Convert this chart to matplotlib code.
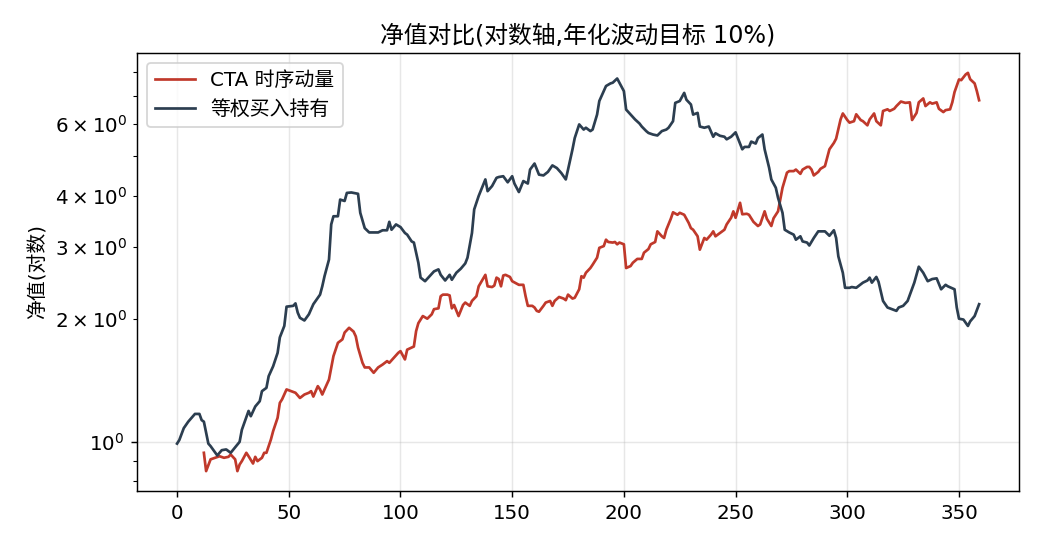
import matplotlib
matplotlib.use("Agg")
import matplotlib.pyplot as plt
from matplotlib.ticker import LogFormatterSciNotation

plt.rcParams['font.family'] = ['DejaVu Sans', 'Noto Sans CJK SC']
plt.rcParams['font.size'] = 11
plt.rcParams['axes.unicode_minus'] = False

# 等权买入持有 净值
bh_days = [0, 1, 3, 5, 8, 10, 11, 12, 14, 15, 18, 20, 22, 24, 26, 28, 29, 32, 33, 35,
           37, 38, 40, 41, 43, 45, 46, 48, 49, 52, 53, 54, 55, 57, 59, 61, 64, 65, 66, 68,
           69, 70, 72, 73, 75, 76, 78, 81, 82, 84, 86, 90, 92, 94, 95, 96, 98, 100, 102, 103,
           105, 106, 108, 109, 111, 113, 115, 117, 118, 120, 122, 123, 125, 127, 129, 130, 132, 133, 135, 138,
           139, 141, 143, 144, 146, 148, 150, 151, 153, 155, 157, 158, 160, 162, 164, 166, 168, 170, 172, 174,
           175, 177, 178, 180, 182, 183, 185, 186, 188, 189, 192, 194, 195, 197, 198, 200, 201, 203, 205, 207,
           208, 210, 211, 213, 215, 217, 219, 220, 222, 223, 225, 227, 228, 230, 231, 233, 234, 236, 238, 240,
           241, 243, 245, 246, 248, 250, 251, 253, 254, 256, 257, 259, 260, 262, 263, 265, 266, 268, 269, 271,
           272, 274, 276, 277, 279, 280, 282, 283, 285, 287, 290, 292, 294, 295, 296, 298, 299, 301, 302, 304,
           307, 309, 310, 311, 313, 314, 316, 318, 320, 322, 323, 325, 327, 330, 332, 334, 336, 338, 340, 342,
           344, 345, 348, 349, 350, 352, 354, 355, 357, 359]
bh_nav = [0.99, 1.01, 1.08, 1.12, 1.17, 1.17, 1.13, 1.12, 0.99, 0.976, 0.926, 0.954, 0.958, 0.94, 0.97, 1.0, 1.07, 1.19, 1.155, 1.22,
          1.257, 1.33, 1.355, 1.447, 1.53, 1.65, 1.80, 1.92, 2.14, 2.15, 2.18, 2.07, 2.01, 1.98, 2.05, 2.17, 2.29, 2.40, 2.54, 2.79,
          3.40, 3.56, 3.56, 3.91, 3.88, 4.06, 4.07, 4.04, 3.63, 3.33, 3.25, 3.25, 3.29, 3.29, 3.45, 3.30, 3.40, 3.35, 3.24, 3.21,
          3.09, 3.07, 2.74, 2.52, 2.47, 2.54, 2.61, 2.64, 2.56, 2.48, 2.56, 2.49, 2.59, 2.65, 2.73, 2.82, 3.24, 3.70, 3.99, 4.38,
          4.10, 4.22, 4.42, 4.44, 4.46, 4.31, 4.46, 4.28, 4.08, 4.34, 4.28, 4.63, 4.79, 4.50, 4.48, 4.57, 4.74, 4.67, 4.54, 4.38,
          4.63, 5.19, 5.53, 5.97, 5.80, 5.86, 5.75, 5.80, 6.31, 6.81, 7.41, 7.52, 7.55, 7.73, 7.55, 7.20, 6.49, 6.31, 6.14, 6.00,
          5.90, 5.75, 5.69, 5.64, 5.61, 5.75, 5.80, 5.86, 6.08, 6.74, 6.81, 7.13, 6.86, 6.68, 6.31, 6.37, 5.90, 5.86, 5.90, 5.57,
          5.68, 5.60, 5.57, 5.49, 5.57, 5.71, 5.53, 5.19, 5.26, 5.26, 5.42, 5.36, 5.53, 5.64, 5.19, 4.68, 4.38, 4.18, 3.95, 3.63,
          3.30, 3.25, 3.21, 3.12, 3.18, 3.09, 3.07, 3.02, 3.15, 3.27, 3.27, 3.19, 3.29, 3.15, 2.84, 2.59, 2.38, 2.38, 2.39, 2.38,
          2.45, 2.48, 2.52, 2.45, 2.53, 2.46, 2.21, 2.13, 2.11, 2.09, 2.13, 2.15, 2.21, 2.45, 2.68, 2.59, 2.47, 2.50, 2.51, 2.36,
          2.42, 2.40, 2.36, 2.13, 2.00, 1.99, 1.92, 1.97, 2.03, 2.17]

# CTA 时序动量 净值
cta_days = [12, 13, 15, 17, 19, 21, 23, 24, 26, 27, 28, 29, 31, 32, 34, 35, 36, 38, 39, 40,
            42, 43, 45, 46, 47, 49, 51, 53, 55, 57, 59, 60, 61, 63, 64, 65, 66, 68, 70, 72,
            74, 75, 77, 79, 80, 81, 83, 84, 86, 88, 90, 92, 94, 95, 97, 99, 100, 102, 103, 105,
            106, 107, 108, 110, 112, 114, 115, 117, 118, 119, 121, 122, 123, 124, 126, 128, 129, 131, 132, 134,
            135, 138, 139, 141, 142, 143, 144, 145, 146, 147, 149, 150, 153, 155, 156, 157, 159, 160, 161, 162,
            164, 165, 167, 168, 169, 171, 173, 174, 175, 177, 178, 180, 181, 182, 183, 185, 186, 188, 189, 191,
            192, 193, 195, 196, 197, 198, 200, 201, 203, 204, 206, 208, 209, 211, 212, 214, 215, 217, 218, 219,
            221, 222, 224, 225, 227, 229, 230, 231, 233, 234, 236, 237, 239, 240, 241, 243, 245, 246, 248, 249,
            250, 252, 253, 255, 256, 258, 260, 261, 263, 264, 266, 267, 269, 270, 271, 273, 274, 276, 277, 279,
            280, 282, 283, 284, 285, 287, 288, 290, 291, 292, 294, 295, 297, 298, 300, 301, 303, 304, 306, 307,
            309, 310, 312, 313, 315, 316, 318, 319, 321, 322, 324, 326, 328, 329, 331, 332, 334, 335, 337, 338,
            340, 341, 343, 344, 346, 347, 348, 350, 351, 353, 354, 355, 357, 358, 359]
cta_nav = [0.94, 0.848, 0.906, 0.914, 0.922, 0.914, 0.919, 0.931, 0.906, 0.848, 0.88, 0.897, 0.94, 0.922, 0.885, 0.919, 0.897, 0.914, 0.94, 0.94,
           1.013, 1.062, 1.145, 1.245, 1.27, 1.343, 1.33, 1.318, 1.28, 1.305, 1.318, 1.33, 1.29, 1.368, 1.343, 1.305, 1.343, 1.42, 1.62, 1.746,
           1.78, 1.85, 1.90, 1.86, 1.81, 1.70, 1.56, 1.52, 1.52, 1.475, 1.52, 1.545, 1.575, 1.56, 1.605, 1.65, 1.666, 1.59, 1.68, 1.70,
           1.71, 1.865, 1.95, 2.03, 2.0, 2.05, 2.11, 2.12, 2.27, 2.29, 2.29, 2.28, 2.12, 2.16, 2.03, 2.16, 2.19, 2.15, 2.21, 2.27,
           2.40, 2.56, 2.40, 2.39, 2.41, 2.52, 2.50, 2.40, 2.55, 2.56, 2.53, 2.47, 2.42, 2.42, 2.27, 2.15, 2.15, 2.13, 2.09, 2.08,
           2.15, 2.19, 2.21, 2.15, 2.21, 2.26, 2.24, 2.22, 2.29, 2.24, 2.25, 2.36, 2.54, 2.52, 2.59, 2.66, 2.71, 2.82, 2.98, 3.01,
           3.12, 3.08, 3.07, 3.08, 3.04, 3.07, 3.04, 2.66, 2.69, 2.74, 2.80, 2.80, 2.90, 2.96, 3.04, 3.08, 3.27, 3.18, 3.15, 3.30,
           3.51, 3.64, 3.59, 3.63, 3.59, 3.43, 3.33, 3.30, 3.18, 2.95, 3.15, 3.12, 3.21, 3.27, 3.18, 3.24, 3.30, 3.40, 3.53, 3.66,
           3.53, 3.84, 3.60, 3.61, 3.59, 3.45, 3.37, 3.40, 3.66, 3.51, 3.37, 3.52, 3.66, 3.91, 4.18, 4.55, 4.59, 4.59, 4.63, 4.52,
           4.63, 4.70, 4.70, 4.63, 4.48, 4.57, 4.65, 4.72, 4.95, 5.19, 5.38, 5.51, 6.14, 6.35, 6.12, 6.03, 6.08, 6.32, 6.12, 6.08,
           5.94, 6.14, 6.35, 6.08, 5.94, 6.44, 6.50, 6.44, 6.52, 6.62, 6.79, 6.74, 6.76, 6.12, 6.37, 6.76, 6.91, 6.62, 6.76, 6.71,
           6.76, 6.52, 6.40, 6.47, 6.50, 6.76, 7.16, 7.69, 7.66, 7.91, 7.98, 7.70, 7.52, 7.2, 6.84]

fig, ax = plt.subplots(figsize=(8, 4.2), dpi=130)
fig.subplots_adjust(left=0.1317, right=0.98, bottom=0.1007, top=0.903)

ax.plot(cta_days, cta_nav, color='#c0392b', lw=1.5, label='CTA 时序动量')
ax.plot(bh_days, bh_nav, color='#2c3e50', lw=1.5, label='等权买入持有')
ax.set_yscale('log')
ax.yaxis.set_minor_formatter(LogFormatterSciNotation(minor_thresholds=(2, 0.4)))

ax.set_title('净值对比(对数轴,年化波动目标 10%)')
ax.set_ylabel('净值(对数)')
ax.grid(True, alpha=0.3)
ax.legend(loc='upper left')

plt.savefig('out.png', dpi=130)
